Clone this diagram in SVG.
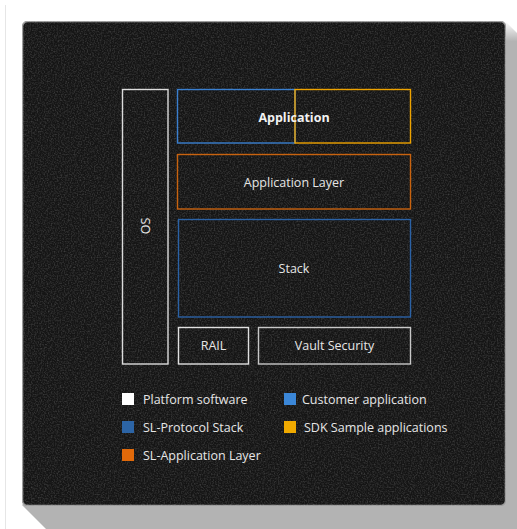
<svg xmlns="http://www.w3.org/2000/svg" width="517" height="529" viewBox="0 0 517 529">
<style>
.t{font-family:"Open Sans","Liberation Sans",sans-serif;font-size:12.5px;fill:#e6e6e6}
.c{text-anchor:middle}
.box{fill:none;stroke-width:1.4}
</style>
<defs>
<filter id="tex" x="0" y="0" width="1" height="1" color-interpolation-filters="sRGB">
<feTurbulence type="fractalNoise" baseFrequency="0.7" numOctaves="2" seed="3" result="n"/>
<feColorMatrix in="n" type="matrix" values="0 0 0 0 1  0 0 0 0 1  0 0 0 0 1  0.35 0 0 0 -0.14" result="m"/>
<feComposite in="m" in2="SourceGraphic" operator="in" result="mm"/>
<feMerge><feMergeNode in="SourceGraphic"/><feMergeNode in="mm"/></feMerge>
</filter>
<linearGradient id="sh" x1="0" y1="0" x2="0" y2="1">
<stop offset="0" stop-color="#b3b3b3" stop-opacity="0"/>
<stop offset="0.04" stop-color="#b3b3b3"/>
<stop offset="1" stop-color="#b3b3b3"/>
</linearGradient>
</defs>
<rect width="517" height="529" fill="#ffffff"/>
<line x1="5.5" y1="5" x2="5.5" y2="529" stroke="#e6e6e6" stroke-width="1"/>
<polygon points="505,21 517,33 517,529 46,529 22,505" fill="url(#sh)"/>
<rect x="22.5" y="21.5" width="483" height="484" rx="5" fill="#151515" stroke="#9a9a9a" stroke-width="1.5" filter="url(#tex)"/>
<g id="os">
<rect class="box" x="122.5" y="89.5" width="45.5" height="274.5" stroke="#dcdcdc"/>
<text class="t c" transform="translate(150,226) rotate(-90)">OS</text>
</g>
<g id="application">
<rect class="box" x="177.5" y="89.5" width="117.5" height="53.5" stroke="#3a7fcf"/>
<rect class="box" x="295" y="89.5" width="115.5" height="53.5" stroke="#eea300"/>
<text class="t c" x="294" y="121.5" style="font-weight:bold;fill:#f2f2f2">Application</text>
</g>
<g id="application-layer">
<rect class="box" x="177.5" y="154.5" width="233" height="54.5" stroke="#c9630f"/>
<text class="t c" x="294" y="186.5">Application Layer</text>
</g>
<g id="stack">
<rect class="box" x="178.5" y="219.5" width="232" height="97.5" stroke="#2b62a6"/>
<text class="t c" x="294" y="272.5">Stack</text>
</g>
<g id="rail">
<rect class="box" x="178.5" y="327.5" width="70" height="36.5" stroke="#e0e0e0"/>
<text class="t c" x="213.5" y="350">RAIL</text>
</g>
<g id="vault">
<rect class="box" x="258.5" y="327.5" width="152" height="36.5" stroke="#c8c8c8"/>
<text class="t c" x="334.5" y="350">Vault Security</text>
</g>
<g id="legend">
<rect x="122" y="393" width="12" height="12" fill="#ffffff"/>
<text class="t" x="143" y="403.5">Platform software</text>
<rect x="284" y="393" width="12" height="12" fill="#3b87d8"/>
<text class="t" x="302" y="403.5">Customer application</text>
<rect x="122" y="421" width="12" height="12" fill="#2c64a5"/>
<text class="t" x="143" y="431.5">SL-Protocol Stack</text>
<rect x="284" y="421" width="12" height="12" fill="#f0aa00"/>
<text class="t" x="304" y="431.5">SDK Sample applications</text>
<rect x="122" y="449" width="12" height="12" fill="#e0690a"/>
<text class="t" x="143" y="459.5">SL-Application Layer</text>
</g>
</svg>
